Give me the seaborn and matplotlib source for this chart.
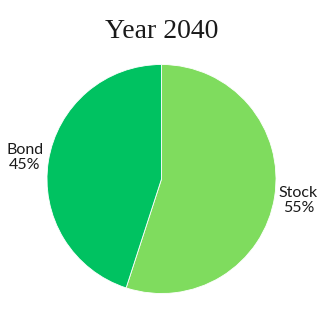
import matplotlib
matplotlib.use("Agg")
import matplotlib.pyplot as plt
import seaborn as sns

sns.set_theme(style="white")
plt.rcParams['font.family'] = ['Lato', 'DejaVu Sans']

categories = ["Stock", "Bond"]
values = [55, 45]
colors = ["#7fdc5e", "#00c261"]
title = "Year 2040"

fig = plt.figure(figsize=(3.23, 3.23), dpi=100)
cx, cy, r = 161.5, 179, 114.5
ax = fig.add_axes([(cx - r) / 323, (323 - cy - r) / 323, 2 * r / 323, 2 * r / 323])
labels = [f"{c}\n{v}%" for c, v in zip(categories, values)]
wedges, texts = ax.pie(values, labels=labels, colors=colors, startangle=90, counterclock=False,
                       labeldistance=1.21, radius=1,
                       wedgeprops=dict(edgecolor="white", linewidth=0.6),
                       textprops=dict(fontsize=11.5, color="#1a1a1a", va="center",
                                      linespacing=1.15))
for t in texts:
    t.set_horizontalalignment("center")
    t.set_multialignment("center")
ax.set_xlim(-1, 1)
ax.set_ylim(-1, 1)
ax.set_aspect("equal")
ax.axis("off")
fig.text(0.5, 1 - 32 / 323, title, ha="center", va="center", fontsize=20,
         family=["Liberation Serif", "DejaVu Serif"], color="#1a1a1a")
fig.savefig("out.png", dpi=100, facecolor="white")
